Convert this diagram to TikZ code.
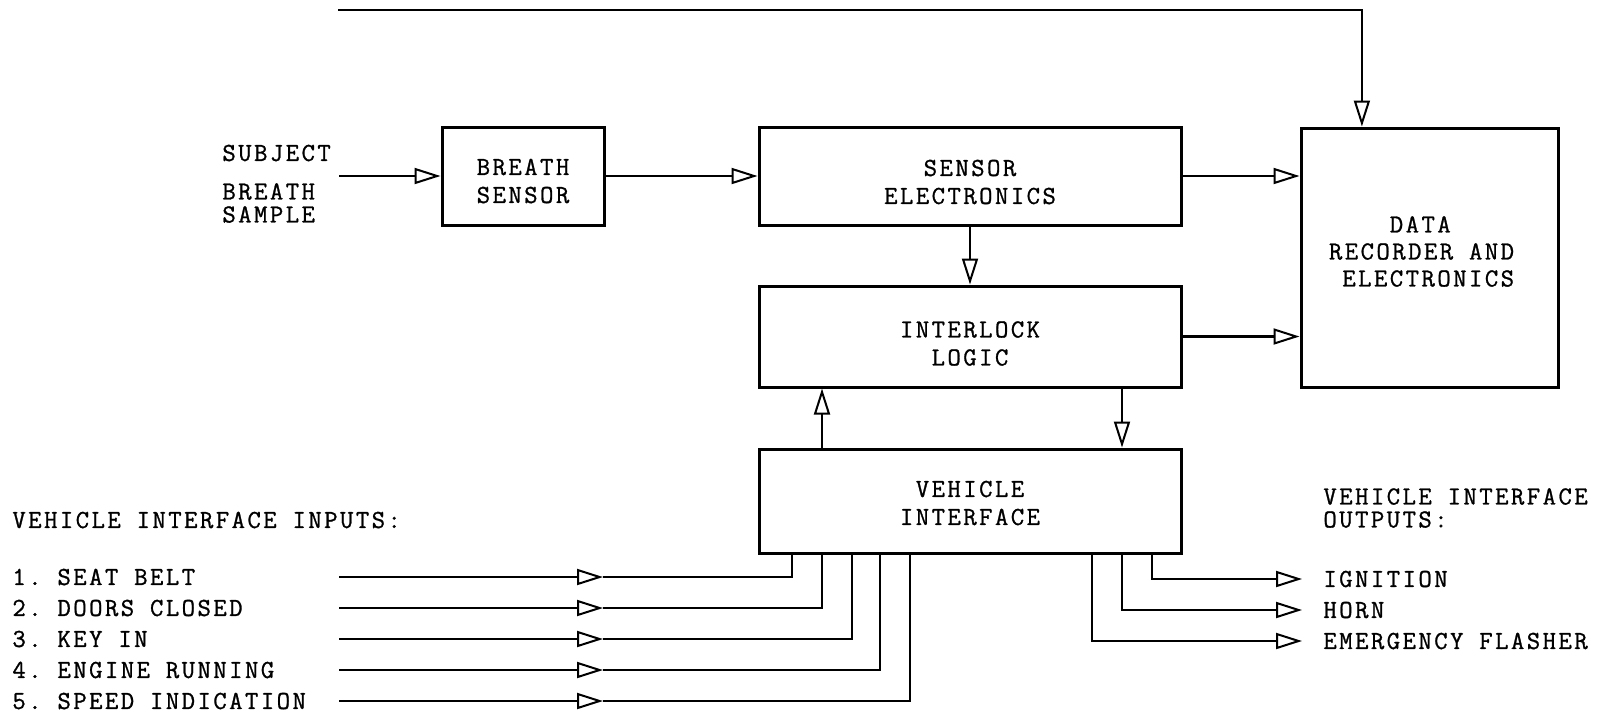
\documentclass[tikz,border=0pt]{standalone}
\usepackage{fontspec}
\setmonofont[LetterSpace=9.4, FakeBold=1]{Latin Modern Mono}
\usetikzlibrary{arrows.meta,calc}

\tikzset{
  block/.style={draw, line width=1.5pt, inner sep=0pt},
  boxtext/.style={align=center, inner sep=0pt},
  flow/.style={line width=1.2pt, -{Triangle[open,length=13pt,width=8pt,line width=1pt]}},
  wire/.style={line width=1.2pt},
  lbl/.style={anchor=west, inner sep=0pt, align=left},
  tight/.style={font=\ttfamily\fontsize{13}{11.5}\selectfont},
}

\begin{document}
\begin{tikzpicture}[x=0.5pt, y=-0.5pt, every node/.style={font=\ttfamily\fontsize{13}{14}\selectfont}]
  \useasboundingbox (0,0) rectangle (1611,714);

  % main blocks
  \node[block, minimum width=81pt, minimum height=49pt] (bs) at (523,176) {};
  \node[block, minimum width=211pt, minimum height=49pt] (se) at (970,176) {};
  \node[block, minimum width=211pt, minimum height=50.5pt] (il) at (970,336.5) {};
  \node[block, minimum width=211pt, minimum height=52pt] (vi) at (970,501) {};
  \node[block, minimum width=128.5pt, minimum height=129.5pt] (dr) at (1429.5,257.5) {};

  % block texts
  \node[boxtext] (bs-t) at ($(bs)+(0,5)$) {BREATH\\SENSOR};
  \node[boxtext] (se-t) at ($(se)+(0,6)$) {SENSOR\\ELECTRONICS};
  \node[boxtext] (il-t) at ($(il)+(0,7)$) {INTERLOCK\\LOGIC};
  \node[boxtext] (vi-t) at ($(vi)+(0,2)$) {VEHICLE\\INTERFACE};
  \node[boxtext, align=left, font=\ttfamily\fontsize{13}{13.5}\selectfont] (dr-t) at ($(dr)+(-8,-6)$)
    {\hphantom{RECO}DATA\\RECORDER AND\\\hphantom{R}ELECTRONICS};

  % subject input
  \node[lbl] (subj) at (222,153) {SUBJECT};
  \node[lbl, tight] (smpl) at (222,203) {BREATH\\SAMPLE};
  \coordinate (sub) at (339,176);
  \draw[flow] (sub) -- (bs.west);
  \draw[flow] (bs.east) -- (se.west);
  \draw[flow] (se.east) -- (se.east -| dr.west);
  \draw[flow] (il.east) -- (il.east -| dr.west);
  \draw[flow] (se.south) -- (il.north);
  \draw[flow] (vi.north -| 822,0) -- (il.south -| 822,0);
  \draw[flow] (il.south -| 1122,0) -- (vi.north -| 1122,0);

  % line over the top
  \coordinate (top) at (338,10);
  \draw[flow] (top) -| ($(dr.north west)!0.24!(dr.north east)$);

  % vehicle interface inputs
  \node[lbl] (inhead) at (12,520) {VEHICLE INTERFACE INPUTS:};
  \foreach \i/\txt/\px in {1/SEAT BELT/792, 2/DOORS CLOSED/822, 3/KEY IN/852,
                           4/ENGINE RUNNING/880, 5/SPEED INDICATION/910} {
    \node[lbl] (in\i) at (12,{546+31*\i}) {\i.\ \txt};
    \coordinate (s\i) at (339,{546+31*\i});
    \coordinate (t\i) at (603,{546+31*\i});
    \draw[flow] (s\i) -- (t\i);
    \draw[wire] (t\i) -| (vi.south -| \px,0);
  }

  % vehicle interface outputs
  \node[lbl, tight] (outhead) at (1323,508) {VEHICLE INTERFACE\\OUTPUTS:};
  \foreach \i/\txt/\px in {1/IGNITION/1152, 2/HORN/1122, 3/EMERGENCY FLASHER/1092} {
    \node[lbl] (out\i) at (1323,{548+31*\i}) {\txt};
    \coordinate (o\i) at (1302,{548+31*\i});
    \draw[flow] (vi.south -| \px,0) |- (o\i);
  }
\end{tikzpicture}
\end{document}
